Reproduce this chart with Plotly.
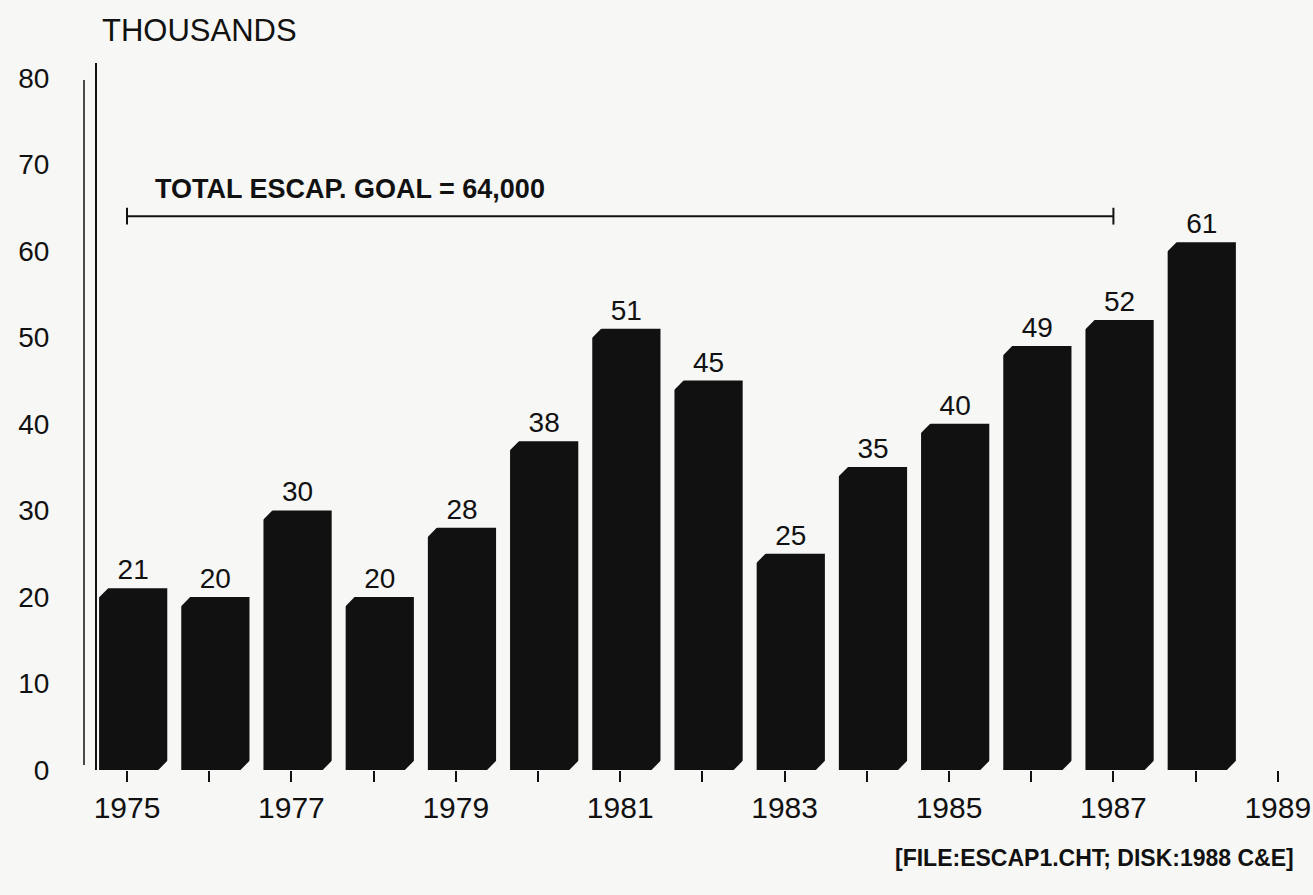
import plotly.graph_objects as go

# Escapement by year, in thousands of fish
years = [1975, 1976, 1977, 1978, 1979, 1980, 1981, 1982, 1983, 1984, 1985, 1986, 1987, 1988]
escapement = [21, 20, 30, 20, 28, 38, 51, 45, 25, 35, 40, 49, 52, 61]

# Escapement goal (thousands) and the span of years it covers
goal_value = 64
goal_years = [1975, 1987]
goal_label = "TOTAL ESCAP. GOAL = 64,000"

# Year ticks on the x axis: every year marked, odd years labelled
tick_years = list(range(1975, 1990))
tick_text = [str(y) if y % 2 == 1 else "" for y in tick_years]
value_ticks = list(range(0, 81, 10))

FONT = "Liberation Sans, Arial, sans-serif"
INK = "#111111"
PAPER = "#f7f7f5"

W, H = 1313, 895
M_L, M_R, M_T, M_B = 97, 13, 63, 125
PLOT_W = W - M_L - M_R
PLOT_H = H - M_T - M_B

BAR_W = 0.83
BAR_OFFSET = -0.34
BEVEL_X = 0.12   # corner cut, in years
BEVEL_Y = 1.15   # corner cut, in thousands


def px_to_paper_x(px):
    return (px - M_L) / PLOT_W


def px_to_paper_y(py):
    return (H - M_B - py) / PLOT_H


fig = go.Figure()

fig.add_trace(go.Bar(
    x=years,
    y=escapement,
    width=BAR_W,
    offset=BAR_OFFSET,
    marker=dict(color=INK, line=dict(width=0)),
    text=[str(v) for v in escapement],
    textposition="outside",
    textfont=dict(family=FONT, size=28, color=INK),
    cliponaxis=False,
    showlegend=False,
    hoverinfo="x+y",
))

# Bevelled corners on each bar (top-left and bottom-right cut away)
for yr, v in zip(years, escapement):
    left = yr + BAR_OFFSET
    right = left + BAR_W
    fig.add_shape(
        type="path", xref="x", yref="y",
        path=f"M {left - 0.01},{v + 0.1} L {left + BEVEL_X},{v + 0.1} L {left - 0.01},{v - BEVEL_Y} Z",
        fillcolor=PAPER, line=dict(width=0), layer="above",
    )
    fig.add_shape(
        type="path", xref="x", yref="y",
        path=f"M {right + 0.01},{-0.1} L {right - BEVEL_X},{-0.1} L {right + 0.01},{BEVEL_Y} Z",
        fillcolor=PAPER, line=dict(width=0), layer="above",
    )

# Goal line with short end ticks
fig.add_trace(go.Scatter(
    x=goal_years,
    y=[goal_value, goal_value],
    mode="lines+markers",
    line=dict(color=INK, width=2),
    marker=dict(symbol="line-ns", size=12, line=dict(color=INK, width=2)),
    showlegend=False,
    hoverinfo="skip",
))
fig.add_annotation(
    x=goal_years[0], y=goal_value,
    xref="x", yref="y",
    text=f"<b>{goal_label}</b>",
    showarrow=False,
    xanchor="left", yanchor="bottom",
    xshift=26, yshift=10,
    font=dict(family=FONT, size=27, color=INK),
)

# Value-axis caption
fig.add_annotation(
    x=px_to_paper_x(100), y=px_to_paper_y(31),
    xref="paper", yref="paper",
    xanchor="left", yanchor="middle",
    text="THOUSANDS",
    showarrow=False,
    font=dict(family=FONT, size=31, color=INK),
)

# Source note
fig.add_annotation(
    x=px_to_paper_x(1296), y=px_to_paper_y(858),
    xref="paper", yref="paper",
    xanchor="right", yanchor="middle",
    text="<b>[FILE:ESCAP1.CHT; DISK:1988 C&E]</b>",
    showarrow=False,
    font=dict(family=FONT, size=23, color=INK),
)

# Second bracket line left of the value axis
fig.add_shape(
    type="line", xref="paper", yref="paper",
    x0=px_to_paper_x(84), x1=px_to_paper_x(84),
    y0=px_to_paper_y(765), y1=px_to_paper_y(80),
    line=dict(color=INK, width=1.5),
)

fig.update_layout(
    width=W,
    height=H,
    margin=dict(l=M_L, r=M_R, t=M_T, b=M_B, autoexpand=False),
    paper_bgcolor=PAPER,
    plot_bgcolor=PAPER,
    font=dict(family=FONT, color=INK),
    xaxis=dict(
        range=[1974.635, 1989.27],
        automargin=False,
        tickmode="array",
        tickvals=tick_years,
        ticktext=tick_text,
        ticks="outside",
        ticklen=11,
        tickwidth=2,
        tickcolor=INK,
        tickfont=dict(family=FONT, size=30, color=INK),
        showgrid=False,
        zeroline=False,
        showline=False,
    ),
    yaxis=dict(
        range=[0, 81.7],
        automargin=False,
        tickmode="array",
        tickvals=value_ticks,
        ticks="",
        ticklabelstandoff=40,
        tickfont=dict(family=FONT, size=28, color=INK),
        showgrid=False,
        zeroline=False,
        showline=True,
        linecolor=INK,
        linewidth=2,
    ),
)

fig.write_html("out.html")
